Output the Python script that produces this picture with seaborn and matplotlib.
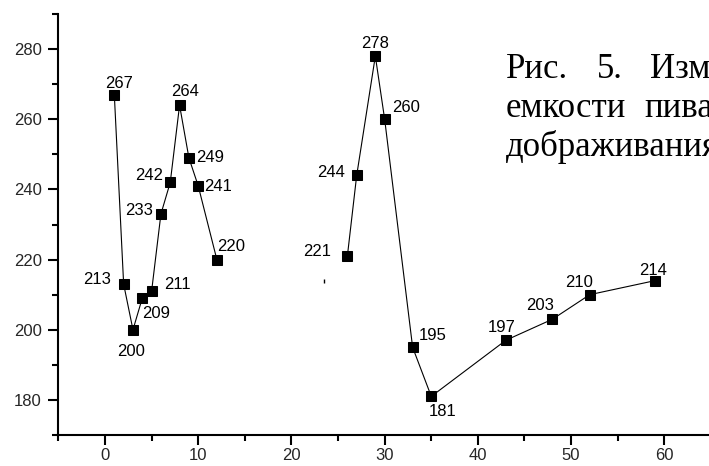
import numpy as np
import pandas as pd
import matplotlib
matplotlib.use('Agg')
import matplotlib.pyplot as plt
import seaborn as sns
from matplotlib.ticker import MultipleLocator

# ---- data ----
x1 = [1, 2, 3, 4, 5, 6, 7, 8, 9, 10, 12]
y1 = [267, 213, 200, 209, 211, 233, 242, 264, 249, 241, 220]
x2 = [26, 27, 29, 30, 33, 35, 43, 48, 52, 59]
y2 = [221, 244, 278, 260, 195, 181, 197, 203, 210, 214]
stray_x = [23.5]
stray_y = [214]
x_ticks = [0, 10, 20, 30, 40, 50, 60]
y_ticks = [180, 200, 220, 240, 260, 280]
caption_lines = [["Рис.", "5.", "Изм"], ["емкости", "пива"], ["дображивания"]]

# label offsets (pixels, relative to marker centre) - styling only
label_offsets = [(5, 13), (-27, 6), (-2, -20), (14, -14), (26, 8), (-22, 5), (-21, 8),
                 (5, 15), (21, 2), (20, 1), (14, 15),
                 (-30, 6), (-26, 4), (0, 14), (21, 13), (20, 13), (11, -14),
                 (-4, 14), (-12, 15), (-11, 14), (-2, 12)]

df = pd.DataFrame({
    "x": x1 + x2,
    "y": y1 + y2,
    "segment": [1] * len(x1) + [2] * len(x2),
})

sns.set_style("ticks")
plt.rcParams['font.family'] = ['Liberation Sans', 'DejaVu Sans']

W, H = 709, 466
fig = plt.figure(figsize=(W / 100, H / 100), dpi=100)
x0_px, x_unit = 105.0, 9.322
left_px = x0_px + (-5) * x_unit
right_px = x0_px + 70 * x_unit
ax = fig.add_axes([left_px / W, 1 - 435 / H, (right_px - left_px) / W, (435 - 14) / H])

sns.lineplot(data=df, x="x", y="y", units="segment", estimator=None, sort=False,
             color="black", linewidth=0.8, marker="s", markersize=7.4,
             markeredgecolor="black", markerfacecolor="black", ax=ax)
ax.plot(stray_x, stray_y, linestyle="none", marker="|", markersize=2.5,
        color="black", markeredgewidth=1)

ax.set_xlim(-5, 70)
ax.set_ylim(170, 290)
ax.set_xticks(x_ticks)
ax.set_yticks(y_ticks)
ax.xaxis.set_minor_locator(MultipleLocator(5))
ax.yaxis.set_minor_locator(MultipleLocator(10))
ax.set_xlabel("")
ax.set_ylabel("")
sns.despine(ax=ax)
for s in ["left", "bottom"]:
    ax.spines[s].set_linewidth(1.5)
    ax.spines[s].set_color("black")
ax.tick_params(which="major", length=7, width=1.5, color="black", labelsize=12)
ax.tick_params(which="minor", length=4, width=1.5, color="black")
ax.tick_params(axis="x", which="major", pad=2)
ax.tick_params(axis="y", which="major", pad=5)

for xv, yv, (dx, dy) in zip(df["x"], df["y"], label_offsets):
    ax.annotate(str(yv), (xv, yv), xytext=(dx, dy - 6), textcoords="offset pixels",
                ha="center", va="baseline", fontsize=12, color="black")

# caption text of the source document, clipped at the right edge as in the reference
word_x = [[506, 597, 650], [506, 644], [506]]
baselines = [78, 117, 156]
for words, xs, base in zip(caption_lines, word_x, baselines):
    for w, xp in zip(words, xs):
        fig.text(xp / W, 1 - base / H, w, family=['Liberation Serif', 'DejaVu Serif'],
                 fontsize=25, ha="left", va="baseline", color="black")

fig.savefig("out.png", dpi=100)
